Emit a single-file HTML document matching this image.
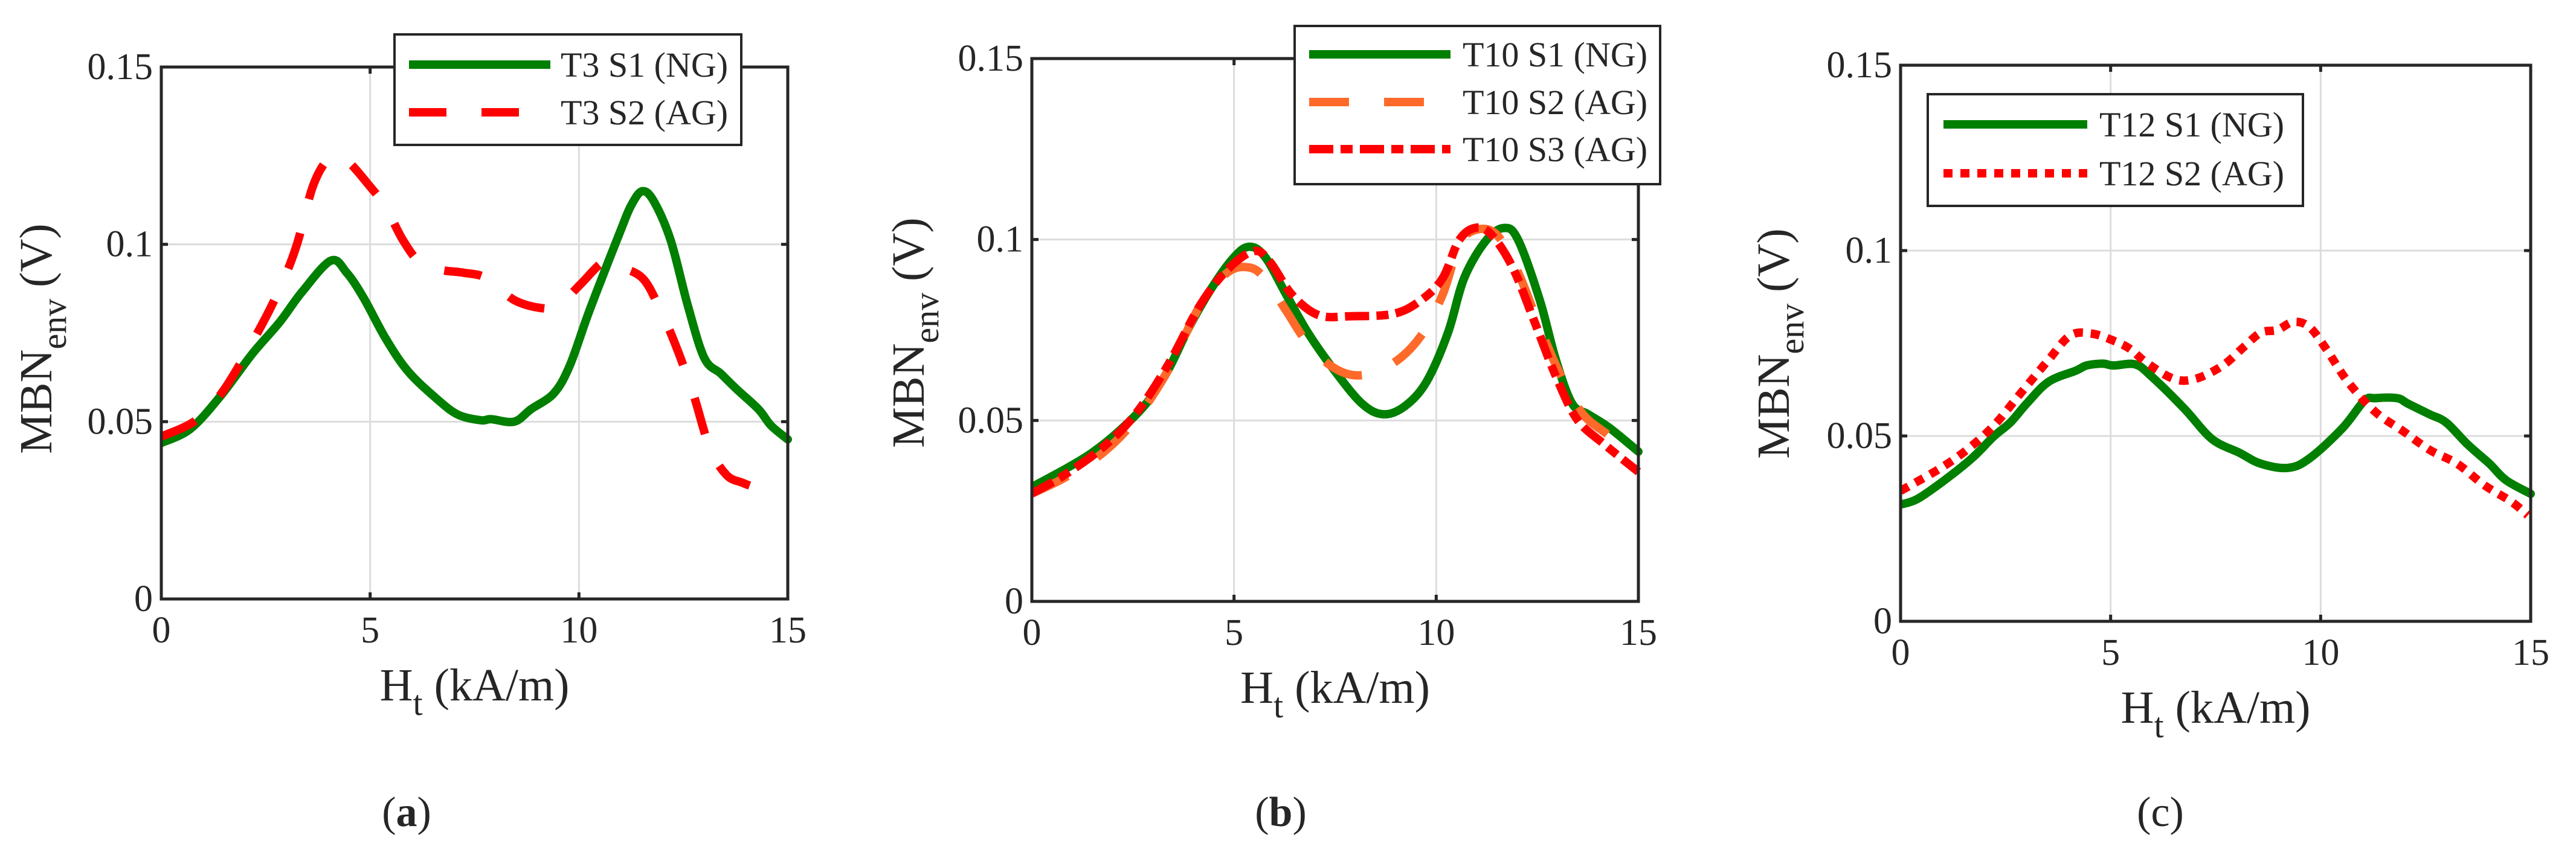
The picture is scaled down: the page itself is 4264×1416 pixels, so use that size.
<!DOCTYPE html>
<html><head><meta charset="utf-8"><style>
html,body{margin:0;padding:0;background:#fff;}
svg{display:block;}
text{font-family:"Liberation Serif","DejaVu Serif",serif;fill:#262626;}
</style></head><body>
<svg id="fig" width="4264" height="1416" viewBox="0 0 4264 1416" xmlns="http://www.w3.org/2000/svg"></svg>
<script>
// ---- data (x in kA/m, y in V) ----
const xTicks = [0, 5, 10, 15];
const xTickLabels = ["0", "5", "10", "15"];
const yTicks = [0, 0.05, 0.1, 0.15];
const yTickLabels = ["0", "0.05", "0.1", "0.15"];

const aGreenX = [0,0.7,1.43,2.17,2.83,3.37,4.06,4.44,4.84,5.37,5.9,6.58,7.1,7.65,7.9,8.45,8.85,9.4,9.78,10.2,10.6,11.0,11.25,11.52,11.8,12.2,12.6,13.0,13.4,13.8,14.3,14.6,15];
const aGreenY = [0.044,0.048,0.0574,0.069,0.078,0.0866,0.0954,0.092,0.085,0.0735,0.0643,0.0566,0.052,0.0504,0.0507,0.050,0.0535,0.058,0.0658,0.0797,0.092,0.104,0.111,0.115,0.112,0.101,0.083,0.068,0.0635,0.0589,0.0535,0.0489,0.045];
const aRedX = [0,0.83,1.5,2.3,2.83,3.24,3.64,4.04,4.44,4.97,5.37,5.78,6.18,6.7,7.24,7.78,8.45,9.12,9.52,10.05,10.6,11.0,11.52,11.9,12.3,12.73,13.13,13.53,13.93,14.46,14.6];
const aRedY = [0.0458,0.0504,0.059,0.075,0.0874,0.0997,0.1167,0.1244,0.1236,0.1167,0.1105,0.1013,0.0951,0.0928,0.092,0.0905,0.0843,0.082,0.0828,0.0889,0.0951,0.0936,0.0905,0.0828,0.072,0.0581,0.0427,0.035,0.0327,0.0304,0.0296];

const bGreenX = [0,0.83,1.49,2.16,2.83,3.36,3.89,4.43,4.96,5.36,5.76,6.29,6.83,7.49,8.16,8.69,9.23,9.76,10.29,10.69,11.23,11.69,12.03,12.56,12.96,13.36,13.76,14.29,15];
const bGreenY = [0.0316,0.0366,0.0411,0.0471,0.0547,0.0637,0.0758,0.0863,0.0946,0.098,0.0953,0.0848,0.0742,0.0637,0.0547,0.0517,0.054,0.0607,0.0742,0.0893,0.0997,0.1032,0.0998,0.0833,0.0667,0.0547,0.0517,0.0479,0.0414];
const bOrangeX = [0,0.83,1.76,2.56,3.36,4.16,4.83,5.36,5.76,6.29,6.83,7.49,8.16,8.96,9.63,10.16,10.56,10.96,11.49,12.03,12.56,13.09,13.63,14.29,14.83];
const bOrangeY = [0.0298,0.0343,0.0411,0.0502,0.0637,0.0818,0.0908,0.0923,0.0893,0.0803,0.0712,0.0644,0.0625,0.066,0.0735,0.0848,0.0983,0.1026,0.1014,0.0908,0.0758,0.0622,0.0517,0.0456,0.0396];
const bRedX = [0,0.83,1.76,2.56,3.36,4.16,4.83,5.49,5.89,6.43,7.09,7.89,8.96,9.63,10.16,10.56,10.96,11.36,11.89,12.43,12.96,13.49,14.16,15];
const bRedY = [0.0298,0.0351,0.0426,0.0517,0.0652,0.0818,0.0916,0.0968,0.0938,0.0848,0.0791,0.0788,0.0795,0.0833,0.0893,0.0997,0.1032,0.1014,0.0923,0.0773,0.0622,0.0502,0.0434,0.0358];

const cGreenX = [0,0.4,1.05,1.7,2.22,2.61,3.0,3.52,4.17,4.43,4.81,5.07,5.59,5.98,6.76,7.41,8.06,8.58,9.23,9.74,10.52,11.04,11.3,11.82,12.08,12.6,12.99,13.5,14.02,14.41,15];
const cGreenY = [0.0315,0.033,0.0381,0.044,0.0499,0.0536,0.0587,0.0646,0.0676,0.069,0.0695,0.069,0.0693,0.066,0.0573,0.0492,0.0455,0.0425,0.0414,0.044,0.0521,0.0595,0.0602,0.0602,0.0587,0.0558,0.0536,0.0477,0.0425,0.0381,0.0344];
const cRedX = [0,0.92,1.57,2.22,2.87,3.52,4.04,4.55,5.07,5.46,5.85,6.5,7.02,7.67,8.19,8.58,8.97,9.36,9.74,10.13,10.65,11.3,11.95,12.6,13.25,13.9,14.55,14.93];
const cRedY = [0.0352,0.0411,0.0462,0.0528,0.0617,0.0705,0.0771,0.0776,0.0757,0.0735,0.0698,0.0654,0.0654,0.069,0.0742,0.0779,0.0786,0.0808,0.0793,0.0735,0.0646,0.0565,0.0514,0.0462,0.0425,0.0367,0.0322,0.0286];

const NS = "http://www.w3.org/2000/svg";
const svg = document.getElementById('fig');
function mk(tag, attrs, parent) {
  const e = document.createElementNS(NS, tag);
  for (const k in attrs) e.setAttribute(k, attrs[k]);
  (parent || svg).appendChild(e);
  return e;
}
function catmull(pts) {
  let d = "M" + pts[0][0].toFixed(1) + "," + pts[0][1].toFixed(1);
  for (let i = 0; i < pts.length - 1; i++) {
    const p0 = pts[i - 1] || pts[i], p1 = pts[i], p2 = pts[i + 1], p3 = pts[i + 2] || p2;
    const c1 = [p1[0] + (p2[0] - p0[0]) / 6, p1[1] + (p2[1] - p0[1]) / 6];
    const c2 = [p2[0] - (p3[0] - p1[0]) / 6, p2[1] - (p3[1] - p1[1]) / 6];
    d += " C" + c1[0].toFixed(1) + "," + c1[1].toFixed(1) + " " + c2[0].toFixed(1) + "," + c2[1].toFixed(1) + " " + p2[0].toFixed(1) + "," + p2[1].toFixed(1);
  }
  return d;
}

const panels = [
  {id:'a', L:267, R:1304, T:111, B:992, ylx:60, yly:561, capx:673, cap:'a', bold:true,
   legend:{x1:653, x2:1227, y1:57, y2:240, rows:[107,186], lx1:677, lx2:911, tx:928},
   series:[
     {name:'T3 S1 (NG)', xs:aGreenX, ys:aGreenY, color:'#007f00', dash:null},
     {name:'T3 S2 (AG)', xs:aRedX, ys:aRedY, color:'#ff0000', dash:'62 58'}]},
  {id:'b', L:1708, R:2712, T:97, B:996, ylx:1504, yly:551, capx:2120, cap:'b', bold:true,
   legend:{x1:2143, x2:2748, y1:43, y2:305, rows:[90,169,247], lx1:2167, lx2:2401, tx:2421},
   series:[
     {name:'T10 S1 (NG)', xs:bGreenX, ys:bGreenY, color:'#007f00', dash:null},
     {name:'T10 S2 (AG)', xs:bOrangeX, ys:bOrangeY, color:'#ff6a2a', dash:'66 58'},
     {name:'T10 S3 (AG)', xs:bRedX, ys:bRedY, color:'#ff0000', dash:'40 12 20 12'}]},
  {id:'c', L:3146, R:4189, T:108, B:1029, ylx:2936, yly:569, capx:3576, cap:'c', bold:false,
   legend:{x1:3191, x2:3812, y1:156, y2:341, rows:[206,287], lx1:3217, lx2:3455, tx:3475},
   series:[
     {name:'T12 S1 (NG)', xs:cGreenX, ys:cGreenY, color:'#007f00', dash:null},
     {name:'T12 S2 (AG)', xs:cRedX, ys:cRedY, color:'#ff0000', dash:'15 13'}]}
];

panels.forEach(p => {
  const g = mk('g', {});
  
  
  const sx = v => p.L + (v - 0) / 15 * (p.R - p.L);
  const sy = v => p.B - (v - 0) / 0.15 * (p.B - p.T);
  xTicks.forEach(t => {
    if (t > 0 && t < 15) {
      const l = mk('line', {x1:sx(t), x2:sx(t), y1:p.T, y2:p.B, stroke:'#dcdcdc', 'stroke-width':3}, g);
      
      
    }
  });
  yTicks.forEach(t => {
    if (t > 0 && t < 0.15) {
      const l = mk('line', {x1:p.L, x2:p.R, y1:sy(t), y2:sy(t), stroke:'#dcdcdc', 'stroke-width':3}, g);
      
      
    }
  });
  const clipId = 'clip' + p.id;
  const cp = mk('clipPath', {id:clipId}, g);
  mk('rect', {x:p.L, y:p.T - 20, width:p.R - p.L + 10, height:p.B - p.T + 20}, cp);
  p.series.forEach((s, i) => {
    const pts = s.xs.map((x, k) => [sx(x), sy(s.ys[k])]);
    const attrs = {d:catmull(pts), fill:'none', stroke:s.color, 'stroke-width':14, 'stroke-linejoin':'round', 'stroke-linecap': s.dash ? 'butt' : 'round', 'clip-path':'url(#' + clipId + ')'};
    if (s.dash) attrs['stroke-dasharray'] = s.dash;
    const path = mk('path', attrs, g);
    
    
  });
  const box = mk('rect', {x:p.L, y:p.T, width:p.R - p.L, height:p.B - p.T, fill:'none', stroke:'#262626', 'stroke-width':5}, g);
  
  
  xTicks.forEach((t, i) => {
    mk('line', {x1:sx(t), x2:sx(t), y1:p.B, y2:p.B - 11, stroke:'#262626', 'stroke-width':5}, g);
    mk('line', {x1:sx(t), x2:sx(t), y1:p.T, y2:p.T + 11, stroke:'#262626', 'stroke-width':5}, g);
    const tx = mk('text', {x:sx(t), y:p.B + 72, 'text-anchor':'middle', 'font-size':62}, g);
    tx.textContent = xTickLabels[i];
    
    
  });
  yTicks.forEach((t, i) => {
    mk('line', {x1:p.L, x2:p.L + 11, y1:sy(t), y2:sy(t), stroke:'#262626', 'stroke-width':5}, g);
    mk('line', {x1:p.R, x2:p.R - 11, y1:sy(t), y2:sy(t), stroke:'#262626', 'stroke-width':5}, g);
    const ty = mk('text', {x:p.L - 14, y:sy(t) + 20, 'text-anchor':'end', 'font-size':62}, g);
    ty.textContent = yTickLabels[i];
    
    
  });
  const xt = mk('text', {x:(p.L + p.R) / 2, y:p.B + 168, 'text-anchor':'middle', 'font-size':76}, g);
  xt.innerHTML = 'H<tspan dy="24" font-size="58">t</tspan><tspan dy="-24"> (kA/m)</tspan>';
  
  
  const yt = mk('text', {x:0, y:0, 'text-anchor':'middle', 'font-size':76, transform:'translate(' + (p.ylx + 25) + ',' + p.yly + ') rotate(-90)'}, g);
  yt.innerHTML = 'MBN<tspan dy="24" font-size="58">env</tspan><tspan dy="-24"> (V)</tspan>';
  
  
  const lg = mk('g', {}, g);
  
  
  const L = p.legend;
  mk('rect', {x:L.x1, y:L.y1, width:L.x2 - L.x1, height:L.y2 - L.y1, fill:'#fff', stroke:'#262626', 'stroke-width':4}, lg);
  p.series.forEach((s, i) => {
    const ent = mk('g', {}, lg);
    
    
    const a = {x1:L.lx1, x2:L.lx2, y1:L.rows[i], y2:L.rows[i], stroke:s.color, 'stroke-width':14};
    if (s.dash) a['stroke-dasharray'] = s.dash;
    mk('line', a, ent);
    const t = mk('text', {x:L.tx, y:L.rows[i] + 20, 'font-size':58}, ent);
    t.textContent = s.name;
  });
  const cap = mk('text', {x:p.capx, y:1368, 'text-anchor':'middle', 'font-size':70}, g);
  cap.innerHTML = p.bold ? '(<tspan font-weight="bold">' + p.cap + '</tspan>)' : '(' + p.cap + ')';
  
  
});
</script>
</body></html>
